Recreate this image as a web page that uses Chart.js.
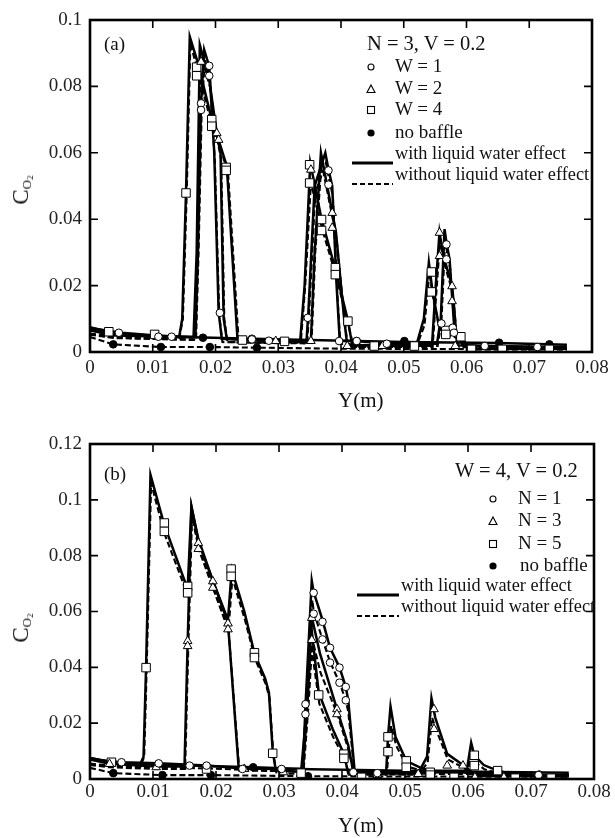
<!DOCTYPE html>
<html>
<head>
<meta charset="utf-8">
<script src="https://cdn.jsdelivr.net/npm/chart.js@4.4.0/dist/chart.umd.min.js"></script>
<style>
  body { margin: 0; background: #fff; }
  #wrap { position: relative; width: 615px; height: 838px; font-family: 'Liberation Serif', 'Times New Roman', serif; color: #111; }
  #wrap canvas { position: absolute; left: 0; }
  .txt { position: absolute; white-space: nowrap; line-height: 1; }
  .ylab { position: absolute; white-space: nowrap; line-height: 1; transform: translate(-50%, -50%) rotate(-90deg); font-size: 23px; }
  .ylab sub { font-size: 13px; vertical-align: -3px; }
  .ylab sub sub { font-size: 9px; vertical-align: -2px; }
</style>
</head>
<body>
<div id="wrap">
  <canvas id="chartA" width="615" height="419" style="top:0"></canvas>
  <canvas id="chartB" width="615" height="419" style="top:419px"></canvas>
</div>
<script>
// ---- panel (a): N = 3, V = 0.2 ----
const xTicksA = [0, 0.01, 0.02, 0.03, 0.04, 0.05, 0.06, 0.07, 0.08];
const yTicksA = [0, 0.02, 0.04, 0.06, 0.08, 0.1];

const aW1With = [[0,0.0072],[0.005,0.0058],[0.013,0.0046],[0.0168,0.0045],[0.0172,0.03],[0.0177,0.075],[0.0182,0.091],[0.019,0.086],[0.0198,0.06],[0.0205,0.012],[0.021,0.004],[0.0285,0.0034],[0.0345,0.0033],[0.0348,0.012],[0.0358,0.05],[0.0375,0.06],[0.038,0.055],[0.0386,0.05],[0.0393,0.02],[0.0398,0.0033],[0.0425,0.0033],[0.0473,0.0025],[0.0553,0.0025],[0.0559,0.01],[0.0565,0.037],[0.0568,0.033],[0.0573,0.028],[0.058,0.0086],[0.0583,0.006],[0.0595,0.002],[0.0629,0.0018],[0.076,0.0015]];
const aW1Without = [[0,0.0055],[0.005,0.0046],[0.013,0.0038],[0.0169,0.0036],[0.0173,0.03],[0.0178,0.073],[0.0183,0.088],[0.0191,0.083],[0.0199,0.057],[0.0206,0.011],[0.0211,0.003],[0.0285,0.0027],[0.0346,0.0026],[0.0349,0.011],[0.0359,0.048],[0.0376,0.057],[0.0381,0.052],[0.0387,0.047],[0.0394,0.018],[0.0399,0.0025],[0.0473,0.0018],[0.0554,0.0018],[0.056,0.009],[0.0566,0.034],[0.0569,0.03],[0.0574,0.025],[0.0581,0.0075],[0.0584,0.005],[0.0596,0.0015],[0.076,0.001]];
const aW2With = [[0,0.007],[0.004,0.0055],[0.01,0.005],[0.0165,0.0045],[0.017,0.03],[0.0175,0.0925],[0.019,0.082],[0.0202,0.066],[0.0208,0.06],[0.0213,0.01],[0.0218,0.004],[0.0296,0.0034],[0.0352,0.0033],[0.0358,0.03],[0.0368,0.06],[0.0386,0.042],[0.0392,0.036],[0.0405,0.01],[0.041,0.002],[0.0545,0.002],[0.0551,0.02],[0.0557,0.036],[0.0563,0.029],[0.0577,0.02],[0.058,0.014],[0.0585,0.002],[0.076,0.0012]];
const aW2Without = [[0,0.0052],[0.004,0.0042],[0.01,0.004],[0.0166,0.0038],[0.0171,0.03],[0.0176,0.09],[0.0191,0.08],[0.0203,0.064],[0.0209,0.058],[0.0214,0.01],[0.0219,0.003],[0.03,0.0028],[0.0353,0.0028],[0.0359,0.03],[0.0369,0.057],[0.0387,0.04],[0.0393,0.034],[0.0406,0.009],[0.0411,0.0015],[0.0546,0.0015],[0.0552,0.018],[0.0558,0.034],[0.0564,0.027],[0.0578,0.018],[0.0581,0.012],[0.0586,0.0015],[0.076,0.0009]];
const aW4With = [[0,0.0075],[0.003,0.006],[0.008,0.005],[0.0142,0.0045],[0.0147,0.01],[0.0153,0.048],[0.0159,0.095],[0.0172,0.087],[0.0194,0.07],[0.0208,0.062],[0.0218,0.056],[0.0235,0.004],[0.03,0.0035],[0.0335,0.0035],[0.0342,0.02],[0.0351,0.057],[0.0369,0.04],[0.0391,0.025],[0.0411,0.0095],[0.0418,0.002],[0.052,0.002],[0.0532,0.01],[0.054,0.027],[0.0546,0.018],[0.0556,0.008],[0.0567,0.0065],[0.0591,0.0046],[0.0605,0.001],[0.076,0.001]];
const aW4Without = [[0,0.0055],[0.003,0.0045],[0.008,0.004],[0.0142,0.0038],[0.0148,0.01],[0.0154,0.047],[0.016,0.093],[0.0174,0.083],[0.0196,0.067],[0.021,0.06],[0.022,0.054],[0.0237,0.003],[0.03,0.0028],[0.0336,0.003],[0.0343,0.02],[0.0352,0.051],[0.037,0.037],[0.0392,0.023],[0.0412,0.008],[0.042,0.0015],[0.052,0.0015],[0.0533,0.008],[0.0541,0.024],[0.0547,0.016],[0.0557,0.007],[0.0568,0.005],[0.0592,0.004],[0.0607,0.0008],[0.076,0.0008]];
const aNoBaffleWith = [[0,0.0065],[0.004,0.005],[0.018,0.0044],[0.026,0.004],[0.0425,0.0033],[0.05,0.003],[0.065,0.0027],[0.076,0.0022]];
const aNoBaffleWithout = [[0,0.0045],[0.0037,0.0023],[0.0113,0.0015],[0.0191,0.0015],[0.0266,0.0013],[0.04,0.001],[0.076,0.0008]];

const aCircles = [[0.0046,0.0058],[0.0109,0.0046],[0.013,0.0046],[0.0177,0.0749],[0.0177,0.0729],[0.019,0.0862],[0.019,0.0832],[0.0207,0.0118],[0.0258,0.0038],[0.0285,0.0034],[0.0347,0.0103],[0.038,0.0547],[0.038,0.0504],[0.0397,0.0033],[0.0425,0.0033],[0.0473,0.0025],[0.056,0.0086],[0.0568,0.0324],[0.0568,0.0279],[0.0578,0.0073],[0.058,0.0058],[0.0629,0.0018],[0.0713,0.0015]];
const aTriangles = [[0.0177,0.0874],[0.0202,0.0659],[0.0205,0.0639],[0.0352,0.0549],[0.0352,0.0033],[0.0386,0.0419],[0.0386,0.0374],[0.0296,0.0033],[0.041,0.0018],[0.0466,0.0018],[0.0557,0.0359],[0.0557,0.0289],[0.0577,0.0198],[0.0577,0.0153],[0.0582,0.0018]];
const aSquares = [[0.003,0.0061],[0.0103,0.0053],[0.0153,0.0479],[0.017,0.0858],[0.017,0.0832],[0.0194,0.07],[0.0194,0.068],[0.0217,0.0556],[0.0217,0.0547],[0.0243,0.0036],[0.031,0.0032],[0.035,0.0564],[0.035,0.0509],[0.0369,0.0399],[0.0369,0.0366],[0.0391,0.0254],[0.0391,0.0233],[0.0411,0.0093],[0.0453,0.0018],[0.0517,0.0018],[0.0544,0.0241],[0.0544,0.0181],[0.0567,0.0065],[0.0567,0.0053],[0.0591,0.0046],[0.0608,0.0008],[0.0657,0.0008],[0.0732,0.0008]];
const aDots = [[0.0037,0.0023],[0.0113,0.0015],[0.018,0.0043],[0.0191,0.0015],[0.0258,0.004],[0.0266,0.0013],[0.0425,0.0033],[0.0501,0.0033],[0.0652,0.0028],[0.0732,0.0023]];

// ---- panel (b): W = 4, V = 0.2 ----
const xTicksB = [0, 0.01, 0.02, 0.03, 0.04, 0.05, 0.06, 0.07, 0.08];
const yTicksB = [0, 0.02, 0.04, 0.06, 0.08, 0.1, 0.12];

const bN1With = [[0,0.007],[0.005,0.006],[0.0109,0.0056],[0.0185,0.0048],[0.0242,0.0038],[0.0304,0.0036],[0.0338,0.0036],[0.0342,0.026],[0.0352,0.071],[0.0355,0.067],[0.0369,0.057],[0.0381,0.047],[0.0396,0.04],[0.0406,0.033],[0.041,0.028],[0.042,0.003],[0.0456,0.0025],[0.06,0.0023],[0.0712,0.0015],[0.076,0.0014]];
const bN1Without = [[0,0.0052],[0.005,0.0045],[0.0185,0.0038],[0.0304,0.0028],[0.0338,0.0028],[0.0342,0.023],[0.0353,0.064],[0.0355,0.06],[0.0369,0.05],[0.0381,0.042],[0.0396,0.0345],[0.0406,0.0282],[0.041,0.024],[0.042,0.002],[0.06,0.0018],[0.076,0.0012]];
const bN3With = [[0,0.007],[0.0031,0.0055],[0.0105,0.0045],[0.015,0.0045],[0.0155,0.049],[0.0161,0.0976],[0.0172,0.085],[0.0195,0.071],[0.0219,0.056],[0.0236,0.004],[0.0307,0.0035],[0.0338,0.0035],[0.0346,0.03],[0.0352,0.058],[0.0365,0.045],[0.0392,0.025],[0.041,0.012],[0.0418,0.0025],[0.0521,0.002],[0.0535,0.008],[0.0542,0.029],[0.0548,0.022],[0.0567,0.009],[0.0592,0.005],[0.0611,0.0015],[0.076,0.0012]];
const bN3Without = [[0,0.005],[0.0031,0.0042],[0.0105,0.0036],[0.0151,0.0036],[0.0156,0.047],[0.0162,0.094],[0.0173,0.082],[0.0196,0.068],[0.022,0.053],[0.0237,0.003],[0.0339,0.0028],[0.0347,0.027],[0.0353,0.05],[0.0366,0.038],[0.0393,0.023],[0.0411,0.01],[0.0419,0.0018],[0.0522,0.0015],[0.0536,0.006],[0.0543,0.022],[0.0549,0.018],[0.0568,0.007],[0.0593,0.004],[0.0612,0.001],[0.076,0.0008]];
const bN5With = [[0,0.0075],[0.0034,0.006],[0.008,0.0055],[0.0085,0.008],[0.0089,0.04],[0.0096,0.109],[0.0118,0.091],[0.0155,0.068],[0.0161,0.0976],[0.0172,0.086],[0.0195,0.071],[0.0219,0.057],[0.0225,0.075],[0.0245,0.06],[0.0261,0.045],[0.0278,0.036],[0.0284,0.031],[0.029,0.01],[0.0295,0.003],[0.0335,0.0025],[0.0342,0.02],[0.035,0.057],[0.0363,0.031],[0.0385,0.018],[0.0403,0.009],[0.041,0.002],[0.047,0.002],[0.0473,0.015],[0.0477,0.026],[0.0485,0.015],[0.0502,0.0065],[0.0525,0.004],[0.054,0.003],[0.0598,0.003],[0.0605,0.013],[0.061,0.0085],[0.0625,0.005],[0.0647,0.003],[0.0675,0.0015],[0.076,0.0012]];
const bN5Without = [[0,0.0055],[0.0034,0.0048],[0.008,0.0044],[0.0086,0.008],[0.009,0.04],[0.0097,0.106],[0.0118,0.088],[0.0155,0.066],[0.0162,0.095],[0.0173,0.083],[0.0196,0.068],[0.022,0.054],[0.0226,0.072],[0.0246,0.057],[0.0262,0.043],[0.0279,0.034],[0.0285,0.029],[0.0291,0.009],[0.0296,0.002],[0.0336,0.0018],[0.0343,0.018],[0.0351,0.048],[0.0364,0.027],[0.0386,0.015],[0.0404,0.0074],[0.0411,0.0015],[0.0471,0.0015],[0.0474,0.01],[0.0478,0.019],[0.0486,0.012],[0.0503,0.0045],[0.0526,0.003],[0.0599,0.0022],[0.0606,0.01],[0.0611,0.006],[0.0626,0.0035],[0.0648,0.002],[0.076,0.0008]];
const bNoBaffleWith = [[0,0.0075],[0.004,0.0058],[0.01,0.0052],[0.02,0.0046],[0.026,0.0042],[0.035,0.0035],[0.05,0.003],[0.065,0.0025],[0.076,0.0022]];
const bNoBaffleWithout = [[0,0.004],[0.0037,0.0021],[0.0115,0.0014],[0.0192,0.0014],[0.0346,0.001],[0.05,0.0009],[0.0713,0.0008],[0.076,0.0008]];

const bCircles = [[0.005,0.006],[0.0109,0.0056],[0.0158,0.0048],[0.0185,0.0048],[0.0242,0.0036],[0.0304,0.0036],[0.0342,0.0268],[0.0342,0.0232],[0.0355,0.0667],[0.0355,0.0592],[0.0369,0.0563],[0.0369,0.05],[0.0381,0.047],[0.0381,0.0417],[0.0396,0.0399],[0.0396,0.0345],[0.0406,0.033],[0.0406,0.0282],[0.0418,0.0024],[0.0456,0.0021],[0.0712,0.0014]];
const bTriangles = [[0.0031,0.0054],[0.0105,0.0042],[0.0155,0.0494],[0.0155,0.0476],[0.0172,0.0845],[0.0172,0.0824],[0.0195,0.0708],[0.0195,0.0685],[0.0219,0.0557],[0.0219,0.0536],[0.0245,0.0036],[0.0307,0.0024],[0.0352,0.0577],[0.0352,0.0498],[0.0392,0.025],[0.0392,0.0232],[0.0456,0.0014],[0.0521,0.0018],[0.0546,0.025],[0.0546,0.0179],[0.0567,0.0048],[0.0592,0.0048],[0.0611,0.0006],[0.0657,0.0006]];
const bSquares = [[0.0034,0.006],[0.0089,0.0399],[0.0118,0.0917],[0.0118,0.0887],[0.0155,0.069],[0.0155,0.0667],[0.0185,0.0036],[0.0224,0.0752],[0.0224,0.0726],[0.0261,0.0452],[0.0261,0.0435],[0.029,0.0092],[0.0335,0.0021],[0.0363,0.0301],[0.0403,0.0089],[0.0403,0.0074],[0.0431,0.0006],[0.0473,0.0151],[0.0473,0.0098],[0.0502,0.0065],[0.0502,0.0042],[0.054,0.0024],[0.054,0.0014],[0.0578,0.0006],[0.061,0.0085],[0.061,0.0048],[0.0647,0.003],[0.0675,0.0003],[0.0732,0.0003]];
const bDots = [[0.0037,0.0021],[0.0115,0.0014],[0.0192,0.0014],[0.0259,0.0042],[0.0346,0.001],[0.0713,0.0016]];

const serif = "'Liberation Serif', 'Times New Roman', serif";

const toPoints = arr => arr.map(p => ({x: p[0], y: p[1]}));

function lineSet(arr, dashed) {
  return {
    data: toPoints(arr),
    showLine: true,
    borderColor: '#000',
    borderWidth: dashed ? 2.1 : 2.5,
    borderDash: dashed ? [6, 3] : [],
    pointRadius: 0,
    tension: 0,
    order: 1
  };
}

function markerSet(arr, style) {
  const filled = style === 'dot';
  return {
    data: toPoints(arr),
    showLine: false,
    pointStyle: filled ? 'circle' : style,
    pointRadius: style === 'rect' ? 6 : style === 'triangle' ? 5 : 3.8,
    pointBackgroundColor: filled ? '#000' : '#fff',
    pointBorderColor: '#000',
    pointBorderWidth: 1,
    order: 0
  };
}

// frame and inward ticks on all four sides
const frameTicks = {
  id: 'frameTicks',
  afterDatasetsDraw(chart) {
    const {ctx, chartArea: a, scales: {x, y}} = chart;
    const len = 8;
    ctx.save();
    ctx.strokeStyle = '#000';
    ctx.lineWidth = 1.6;
    ctx.beginPath();
    x.ticks.forEach(t => {
      const px = x.getPixelForValue(t.value);
      ctx.moveTo(px, a.bottom); ctx.lineTo(px, a.bottom - len);
      ctx.moveTo(px, a.top); ctx.lineTo(px, a.top + len);
    });
    y.ticks.forEach(t => {
      const py = y.getPixelForValue(t.value);
      ctx.moveTo(a.left, py); ctx.lineTo(a.left + len, py);
      ctx.moveTo(a.right, py); ctx.lineTo(a.right - len, py);
    });
    ctx.stroke();
    ctx.lineWidth = 2.6;
    ctx.strokeRect(a.left, a.top, a.right - a.left, a.bottom - a.top);
    ctx.restore();
  }
};

const fmt = v => String(+(+v).toFixed(3));

function makeChart(id, datasets, xTicks, yTicks, box) {
  return new Chart(document.getElementById(id), {
    type: 'scatter',
    data: {datasets},
    options: {
      responsive: false,
      animation: false,
      events: [],
      layout: {padding: {left: 0, right: box.right, top: box.top, bottom: 0}},
      plugins: {legend: {display: false}, tooltip: {enabled: false}},
      scales: {
        x: {
          type: 'linear',
          min: xTicks[0], max: xTicks[xTicks.length - 1],
          afterBuildTicks: s => { s.ticks = xTicks.map(v => ({value: v})); },
          ticks: {callback: fmt, font: {family: serif, size: 19}, color: '#222', padding: box.xPad, maxRotation: 0, autoSkip: false},
          grid: {display: false, drawTicks: false},
          border: {display: false},
          afterFit: s => { s.height = box.xHeight; }
        },
        y: {
          type: 'linear',
          min: yTicks[0], max: yTicks[yTicks.length - 1],
          afterBuildTicks: s => { s.ticks = yTicks.map(v => ({value: v})); },
          ticks: {callback: fmt, font: {family: serif, size: 19}, color: '#222', padding: 8, autoSkip: false},
          grid: {display: false, drawTicks: false},
          border: {display: false},
          afterFit: s => { s.width = 90; }
        }
      }
    },
    plugins: [frameTicks]
  });
}

makeChart('chartA', [
  markerSet(aCircles, 'circle'),
  markerSet(aTriangles, 'triangle'),
  markerSet(aSquares, 'rect'),
  markerSet(aDots, 'dot'),
  lineSet(aW1With, false), lineSet(aW1Without, true),
  lineSet(aW2With, false), lineSet(aW2Without, true),
  lineSet(aW4With, false), lineSet(aW4Without, true),
  lineSet(aNoBaffleWith, false), lineSet(aNoBaffleWithout, true)
], xTicksA, yTicksA, {top: 20, right: 23, xHeight: 67, xPad: 5});

makeChart('chartB', [
  markerSet(bCircles, 'circle'),
  markerSet(bTriangles, 'triangle'),
  markerSet(bSquares, 'rect'),
  markerSet(bDots, 'dot'),
  lineSet(bN1With, false), lineSet(bN1Without, true),
  lineSet(bN3With, false), lineSet(bN3Without, true),
  lineSet(bN5With, false), lineSet(bN5Without, true),
  lineSet(bNoBaffleWith, false), lineSet(bNoBaffleWithout, true)
], xTicksB, yTicksB, {top: 25, right: 21, xHeight: 59, xPad: 2});

// ---- html text: titles, panel labels, legends ----
const wrap = document.getElementById('wrap');

function addText(html, x, y, size, cls) {
  const el = document.createElement('div');
  el.className = cls || 'txt';
  el.innerHTML = html;
  el.style.left = x + 'px';
  el.style.top = (cls ? y : y - size / 2) + 'px';
  if (!cls) el.style.fontSize = size + 'px';
  wrap.appendChild(el);
  return el;
}

const markerSvg = {
  circle: '<circle cx="6" cy="6" r="3" fill="#fff" stroke="#000" stroke-width="1.1"/>',
  triangle: '<polygon points="6,2 10,9.5 2,9.5" fill="#fff" stroke="#000" stroke-width="1.1"/>',
  rect: '<rect x="2.5" y="2.5" width="7" height="7" fill="#fff" stroke="#000" stroke-width="1.1"/>',
  dot: '<circle cx="6" cy="6" r="3.6" fill="#000"/>'
};

function addMarker(style, cx, cy) {
  const el = document.createElement('div');
  el.style.cssText = `position:absolute;left:${cx - 6}px;top:${cy - 6}px;width:12px;height:12px;`;
  el.innerHTML = `<svg width="12" height="12">${markerSvg[style]}</svg>`;
  wrap.appendChild(el);
}

function addLineSample(x1, x2, cy, dashed) {
  const w = x2 - x1;
  const el = document.createElement('div');
  el.style.cssText = `position:absolute;left:${x1}px;top:${cy - 2}px;width:${w}px;height:4px;`;
  el.innerHTML = `<svg width="${w}" height="4"><line x1="0" y1="2" x2="${w}" y2="2" stroke="#000" stroke-width="${dashed ? 2.2 : 3}" ${dashed ? 'stroke-dasharray="5,3"' : ''}/></svg>`;
  wrap.appendChild(el);
}

function addLegend(spec) {
  addText(spec.title, spec.titleX, spec.titleY, 20.5);
  spec.rows.forEach(r => {
    addMarker(r.style, spec.markerX, r.y);
    addText(r.label, r.textX || spec.textX, r.y, 19);
  });
  spec.lines.forEach(l => {
    addLineSample(spec.lineX1, spec.lineX2, l.y, l.dashed);
    addText(l.label, spec.lineX2 + 2, l.y, 18.3);
  });
}

// panel (a)
addText('(a)', 104, 43, 19);
addText('C<sub>O<sub>2</sub></sub>', 22, 190, 23, 'ylab');
addText('Y(m)', 338, 400, 21);
addLegend({
  title: 'N = 3, V = 0.2', titleX: 367, titleY: 43,
  markerX: 371, textX: 395,
  rows: [
    {style: 'circle', label: 'W = 1', y: 65},
    {style: 'triangle', label: 'W = 2', y: 87},
    {style: 'rect', label: 'W = 4', y: 108},
    {style: 'dot', label: 'no baffle', y: 131}
  ],
  lineX1: 352, lineX2: 393,
  lines: [
    {label: 'with liquid water effect', y: 153, dashed: false},
    {label: 'without liquid water effect', y: 174, dashed: true}
  ]
});

// panel (b)
addText('(b)', 104, 473, 19);
addText('C<sub>O<sub>2</sub></sub>', 22, 628, 23, 'ylab');
addText('Y(m)', 338, 825, 21);
addLegend({
  title: 'W = 4, V = 0.2', titleX: 455, titleY: 470,
  markerX: 493, textX: 518,
  rows: [
    {style: 'circle', label: 'N = 1', y: 497},
    {style: 'triangle', label: 'N = 3', y: 519},
    {style: 'rect', label: 'N = 5', y: 542},
    {style: 'dot', label: 'no baffle', y: 564, textX: 520}
  ],
  lineX1: 357, lineX2: 399,
  lines: [
    {label: 'with liquid water effect', y: 585, dashed: false},
    {label: 'without liquid water effect', y: 606, dashed: true}
  ]
});
</script>
</body>
</html>
